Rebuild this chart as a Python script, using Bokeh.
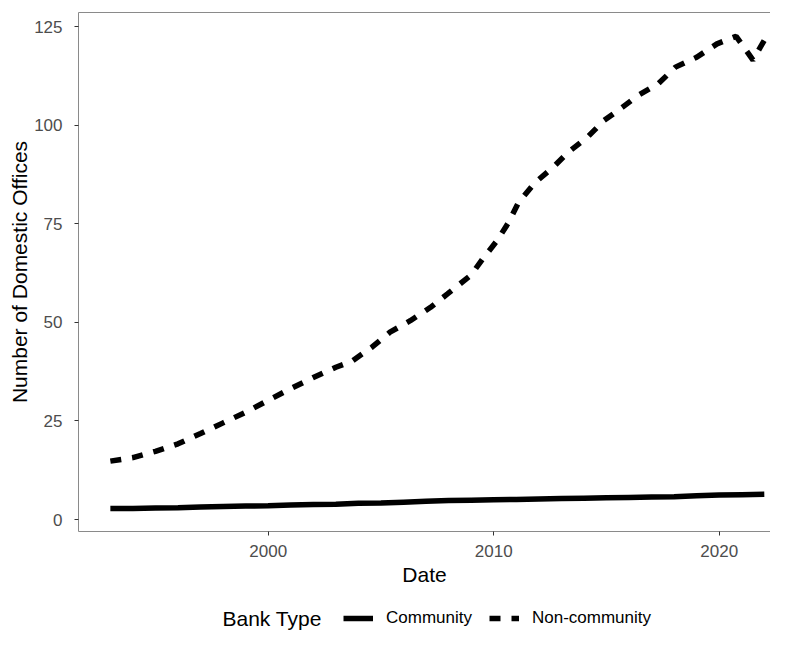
from bokeh.plotting import figure
from bokeh.layouts import column
from bokeh.models import Range1d, Legend, LegendItem, Label, FixedTicker, LinearAxis
from bokeh.embed import file_html
from bokeh.resources import INLINE

# ---- data ----
series_names = ["Community", "Non-community"]
legend_title = "Bank Type"

comm_date = [1993, 1994, 1995, 1996, 1997, 1998, 1999, 2000, 2001, 2002,
             2003, 2004, 2005, 2006, 2007, 2008, 2009, 2010, 2011, 2012,
             2013, 2014, 2015, 2016, 2017, 2018, 2019, 2020, 2021, 2022]
comm_offices = [2.8, 2.8, 2.9, 3.0, 3.2, 3.3, 3.4, 3.5, 3.7, 3.8,
                3.9, 4.1, 4.2, 4.4, 4.6, 4.8, 4.9, 5.0, 5.1, 5.2,
                5.3, 5.4, 5.5, 5.6, 5.7, 5.8, 6.0, 6.2, 6.3, 6.4]

nc_date = [1993, 1994, 1995, 1996, 1997, 1998, 1999, 2000, 2001, 2002,
           2003, 2003.7, 2004.6, 2005.4, 2006.3, 2007.2, 2007.95, 2009.0,
           2009.5, 2010.15, 2010.67, 2011.1, 2011.85, 2012.67, 2013.3,
           2014.15, 2014.9, 2015.7, 2016.4, 2017.3, 2018.06, 2019.0,
           2019.9, 2020.75, 2021.5, 2022.0]
nc_offices = [14.8, 15.7, 17.3, 19.2, 21.8, 24.5, 27.2, 30.2, 33.2, 36.0,
              38.6, 40.1, 43.7, 47.5, 50.4, 53.8, 57.2, 62.0,
              66.0, 70.7, 75.4, 80.4, 85.5, 89.5, 93.1,
              96.9, 101.2, 104.5, 107.5, 110.5, 114.7, 117.2,
              120.6, 122.5, 116.5, 121.5]

x_ticks = [2000, 2010, 2020]
y_ticks = [0, 25, 50, 75, 100, 125]

FONT = "Liberation Sans"
BORDER = "#8a8a8a"

main = figure(width=770, height=595, output_backend="svg", toolbar_location=None,
              x_range=Range1d(1991.587, 2022.275), y_range=Range1d(-3.04, 128.55),
              min_border_left=78, min_border_top=12, min_border_right=0,
              min_border_bottom=64)
main.background_fill_color = "white"
main.border_fill_color = "white"
main.outline_line_color = None
main.xgrid.visible = False
main.ygrid.visible = False

r_comm = main.line(comm_date, comm_offices, line_color="black", line_width=5.5,
                   line_cap="butt")
r_nc = main.line(nc_date, nc_offices, line_color="black", line_width=5.5,
                 line_dash="11 11", line_cap="butt")

for ax in (main.xaxis[0], main.yaxis[0]):
    ax.axis_line_color = BORDER
    ax.axis_line_width = 1
    ax.major_tick_line_color = "#333333"
    ax.major_tick_out = 4
    ax.major_tick_in = 0
    ax.minor_tick_line_color = None
    ax.major_label_text_font = FONT
    ax.major_label_text_font_size = "17px"
    ax.major_label_text_color = "#4D4D4D"
    ax.axis_label_text_font = FONT
    ax.axis_label_text_font_size = "21px"
    ax.axis_label_text_font_style = "normal"
    ax.axis_label_text_color = "black"

main.xaxis.ticker = FixedTicker(ticks=x_ticks)
main.yaxis.ticker = FixedTicker(ticks=y_ticks)
main.xaxis.axis_label = "Date"
main.yaxis.axis_label = "Number of Domestic Offices"
main.xaxis.major_label_standoff = 9
main.xaxis.axis_label_standoff = 3
main.yaxis.major_label_standoff = 12
main.yaxis.axis_label_standoff = 0

# top border line of the panel
top_axis = LinearAxis(ticker=FixedTicker(ticks=[]), axis_line_color=BORDER,
                      axis_line_width=1, major_tick_line_color=None,
                      minor_tick_line_color=None, major_label_text_alpha=0)
main.add_layout(top_axis, "above")

# ---- legend strip below the plot (its frame is aligned with the main frame) ----
leg = figure(width=770, height=36, output_backend="svg", toolbar_location=None,
             x_range=Range1d(0, 1), y_range=Range1d(0, 1),
             x_axis_type=None, y_axis_type=None, min_border=0)
leg.outline_line_color = None
leg.background_fill_color = "white"
leg.border_fill_color = "white"
nan = float("nan")
k_comm = leg.line(x=[nan], y=[nan], line_color="black", line_width=5.5,
                  line_cap="butt")
k_nc = leg.line(x=[nan], y=[nan], line_color="black", line_width=5.5,
                line_dash="11 11", line_cap="butt")

legend = Legend(items=[LegendItem(label=series_names[0], renderers=[k_comm]),
                       LegendItem(label=series_names[1], renderers=[k_nc])],
                orientation="horizontal", location=(265, 3))
legend.background_fill_alpha = 0
legend.border_line_color = None
legend.padding = 0
legend.margin = 0
legend.spacing = 17
legend.label_standoff = 13
legend.glyph_width = 30
legend.glyph_height = 16
legend.label_height = 16
legend.label_text_font = FONT
legend.label_text_font_size = "17px"
legend.label_text_color = "black"
leg.add_layout(legend, "center")

title_lbl = Label(x=144, y=13, x_units="screen", y_units="screen",
                  text=legend_title, text_font=FONT, text_font_size="21px",
                  text_color="black", text_baseline="middle", text_align="left")
leg.add_layout(title_lbl)

p = column(main, leg, spacing=0)

open("out.html", "w").write(file_html(p, INLINE))
